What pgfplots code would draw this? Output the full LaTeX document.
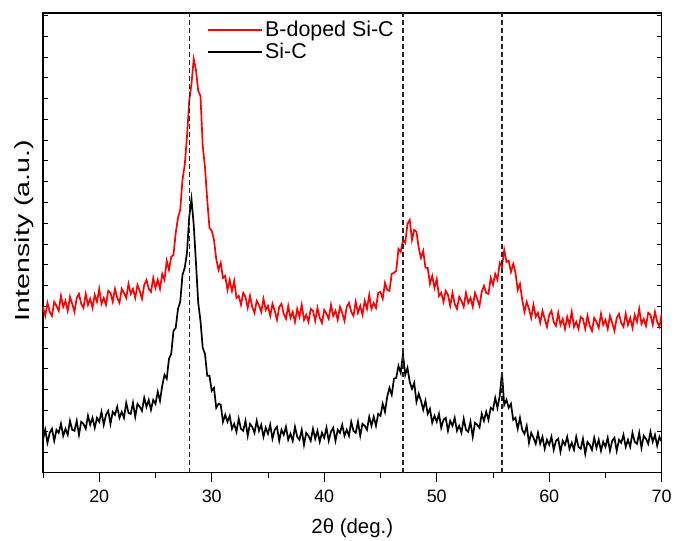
\documentclass[border=0pt]{standalone}
\usepackage{fontspec}
\setmainfont{Liberation Sans}
\usepackage{graphicx}
\usepackage{pgfplots}
\usepackage{pgfplotstable}
\pgfplotsset{compat=1.18}

% 2theta, B-doped Si-C, Si-C (intensity in arbitrary units)
\pgfplotstableread{
x r k
15.0 166 33
15.2 157 43
15.4 170 30
15.6 161 40
15.8 157 44
16.0 171 32
16.2 167 43
16.4 162 40
16.6 177 49
16.8 166 37
17.0 172 44
17.2 162 38
17.4 176 52
17.6 169 43
17.8 161 42
18.0 175 52
18.2 179 38
18.4 169 51
18.6 165 49
18.8 179 44
19.0 168 57
19.2 174 48
19.4 165 55
19.6 178 45
19.8 171 55
20.0 184 51
20.2 169 61
20.4 175 48
20.6 168 58
20.8 182 62
21.0 180 49
21.2 171 61
21.4 184 58
21.6 175 66
21.8 170 55
22.0 184 61
22.2 180 55
22.4 175 70
22.6 189 60
22.8 179 59
23.0 184 70
23.2 175 56
23.4 188 69
23.6 182 66
23.8 174 62
24.0 188 75
24.2 193 66
24.4 184 73
24.6 181 63
24.8 195 73
25.0 185 69
25.2 193 81
25.4 184 72
25.6 199 87
25.8 193 98
26.0 212 94
26.2 203 114
26.4 216 119
26.6 218 142
26.8 240 145
27.0 255 164
27.2 263 171
27.4 293 198
27.6 308 205
27.8 336 220
28.0 372 256
28.2 389 274
28.4 414 248
28.6 403 210
28.8 382 170
29.0 377 152
29.2 327 125
29.4 306 119
29.6 273 97
29.8 245 97
30.0 242 82
30.2 233 85
30.4 214 65
30.6 203 69
30.8 210 68
31.0 195 51
31.2 197 58
31.4 183 51
31.6 193 57
31.8 182 44
32.0 192 49
32.2 175 41
32.4 177 54
32.6 168 44
32.8 180 42
33.0 176 52
33.2 165 37
33.4 177 49
33.6 166 46
33.8 160 40
34.0 172 52
34.2 168 42
34.4 161 48
34.6 174 36
34.8 163 45
35.0 167 39
35.2 157 48
35.4 169 34
35.6 162 43
35.8 153 46
36.0 166 32
36.2 169 43
36.4 159 38
36.6 154 46
36.8 167 33
37.0 155 39
37.2 161 32
37.4 151 46
37.6 164 36
37.8 156 33
38.0 168 43
38.2 153 28
38.4 158 40
38.6 151 37
38.8 164 32
39.0 162 44
39.2 152 34
39.4 165 42
39.6 155 31
39.8 150 40
40.0 163 35
40.2 159 45
40.4 154 32
40.6 168 41
40.8 157 45
41.0 162 32
41.2 153 43
41.4 166 40
41.6 160 48
41.8 152 37
42.0 166 43
42.2 170 37
42.4 161 51
42.6 157 42
42.8 171 40
43.0 160 51
43.2 167 37
43.4 158 49
43.6 172 47
43.8 164 43
44.0 178 56
44.2 164 47
44.4 170 56
44.6 165 47
44.8 180 59
45.0 181 57
45.2 174 69
45.4 190 61
45.6 183 76
45.8 182 85
46.0 199 78
46.2 200 94
46.4 202 95
46.6 224 107
46.8 221 100
47.0 233 119
47.2 230 98
47.4 249 105
47.6 253 91
47.8 233 84
48.0 243 90
48.2 241 71
48.4 225 79
48.6 215 72
48.8 222 63
49.0 205 72
49.2 205 59
49.4 189 64
49.6 197 50
49.8 185 57
50.0 194 51
50.2 177 59
50.4 180 45
50.6 171 53
50.8 182 55
51.0 178 42
51.2 167 52
51.4 180 47
51.6 169 55
51.8 164 42
52.0 176 47
52.2 172 40
52.4 166 54
52.6 180 43
52.8 170 41
53.0 175 51
53.2 166 36
53.4 180 50
53.6 174 48
53.8 167 45
54.0 181 59
54.2 187 52
54.4 180 61
54.6 179 53
54.8 195 65
55.0 188 63
55.2 199 75
55.4 193 65
55.6 210 77
55.8 206 100
56.0 223 68
56.2 211 73
56.4 212 65
56.6 201 69
56.8 209 53
57.0 200 55
57.2 183 44
57.4 189 55
57.6 173 43
57.8 161 39
58.0 171 47
58.2 164 30
58.4 155 40
58.6 168 35
58.8 156 29
59.0 160 40
59.2 150 29
59.4 162 36
59.6 154 24
59.8 146 33
60.0 158 28
60.2 162 36
60.4 151 23
60.6 147 32
60.8 160 34
61.0 148 21
61.2 154 32
61.4 144 28
61.6 156 36
61.8 148 24
62.0 161 30
62.2 146 23
62.4 151 36
62.6 144 26
62.8 156 24
63.0 154 34
63.2 144 19
63.4 157 31
63.6 147 28
63.8 142 23
64.0 155 35
64.2 151 25
64.4 145 33
64.6 159 22
64.8 148 31
65.0 153 26
65.2 144 35
65.4 157 22
65.6 150 32
65.8 142 35
66.0 155 22
66.2 159 33
66.4 150 30
66.6 146 38
66.8 159 26
67.0 148 33
67.2 155 26
67.4 145 40
67.6 158 31
67.8 151 29
68.0 164 40
68.2 149 25
68.4 154 37
68.6 147 34
68.8 160 29
69.0 158 41
69.2 148 31
69.4 161 38
69.6 151 27
69.8 146 36
70.0 159 31
}\xrd

\begin{document}
\begin{tikzpicture}
\begin{axis}[
    scale only axis,
    width=619bp, height=460bp,
    xmin=15, xmax=70, ymin=0, ymax=460,
    xtick={20,30,...,70},
    minor xtick={15,25,...,65},
    xtick pos=bottom,
    xtick align=outside,
    ytick=\empty,
    extra y ticks={0,20.8,...,460},
    extra y tick labels={},
    extra y tick style={major tick length=5bp, tick align=inside, ytick pos=both},
    major tick length=9bp,
    minor tick length=5bp,
    every tick/.style={black, line width=0.9bp},
    axis line style={line width=1.1bp},
    tick label style={font=\fontsize{18}{21}\selectfont},
    xticklabel style={yshift=-5bp},
    /pgf/number format/assume math mode=true,
    xlabel={2θ (deg.)},
    ylabel={\scalebox{1.4}[1]{Intensity (a.u.)}},
    label style={font=\fontsize{20.5}{24}\selectfont},
    xlabel style={at={(axis description cs:0.5,-0.12)}, anchor=center},
    ylabel style={at={(axis description cs:-0.03,0.527)}, anchor=center},
    legend style={draw=none, fill=none, at={(0.264,0.989)}, anchor=north west,
        font=\fontsize{21.5}{25}\selectfont, row sep=1bp, inner sep=1bp},
    legend cell align=left,
    legend image code/.code={\draw[#1, line width=1.5bp] (0bp,0bp) -- (50bp,0bp);
        \path (0bp,0bp) -- (54bp,0bp);},
    after end axis/.code={
        \path (rel axis cs:0,0) ++(-43bp,-65bp);
        \path (rel axis cs:1,1) ++(13bp,13bp);
    },
]
\addplot[red, line width=1.7bp] table[x=x, y=r] {\xrd};
\addlegendentry{B-doped Si-C}
\addplot[black, line width=1.7bp] table[x=x, y=k] {\xrd};
\addlegendentry{Si-C}
\addplot[black!85, dash pattern=on 5bp off 3bp, line width=1.1bp, forget plot] coordinates {(28.05,0) (28.05,460)};
\addplot[black!85, dash pattern=on 5bp off 3bp, line width=1.1bp, forget plot] coordinates {(47.0,0) (47.0,460)};
\addplot[black!85, dash pattern=on 5bp off 3bp, line width=1.1bp, forget plot] coordinates {(55.8,0) (55.8,460)};
\end{axis}
\end{tikzpicture}
\end{document}
